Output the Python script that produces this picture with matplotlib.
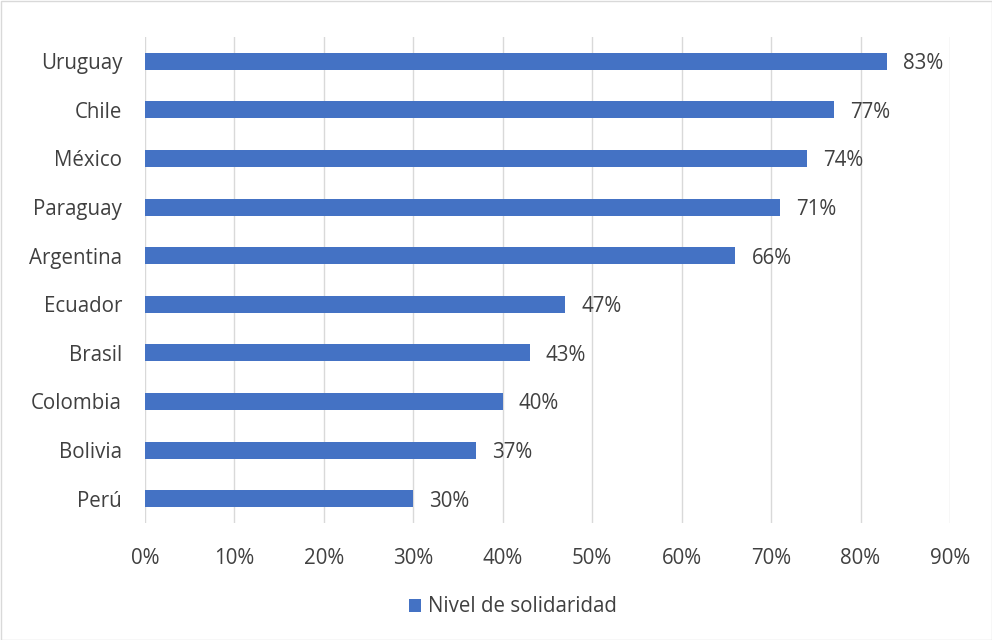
import matplotlib
matplotlib.use("Agg")
import matplotlib.pyplot as plt
from matplotlib.patches import Rectangle

countries = ["Perú", "Bolivia", "Colombia", "Brasil", "Ecuador", "Argentina",
             "Paraguay", "México", "Chile", "Uruguay"]
values = [30, 37, 40, 43, 47, 66, 71, 74, 77, 83]
xticks = [0, 10, 20, 30, 40, 50, 60, 70, 80, 90]
series_name = "Nivel de solidaridad"

plt.rcParams['font.family'] = ['Open Sans', 'DejaVu Sans']
color = "#4472C4"
text_color = "#404040"
fs = 14.8

fig = plt.figure(figsize=(9.92, 6.4), dpi=100)
ax = fig.add_axes([145/992, 1-523/640, (950-145)/992, (523-37)/640])

bars = ax.barh(range(len(countries)), values, height=0.35, color=color, label=series_name, zorder=3)
for i, v in enumerate(values):
    ax.text(v + 1.8, i - 0.05, f"{v}%", va="center", ha="left", fontsize=fs, color=text_color)

ax.set_xlim(0, 90)
ax.set_ylim(-0.5, len(countries) - 0.5)
ax.set_xticks(xticks)
ax.set_xticklabels([f"{t}%" for t in xticks], fontsize=fs, color=text_color)
ax.set_yticks(range(len(countries)))
ax.set_yticklabels(countries, fontsize=fs, color=text_color)
ax.tick_params(length=0)
ax.tick_params(axis='x', pad=18)
ax.tick_params(axis='y', pad=16.5)
ax.xaxis.grid(True, color="#D9D9D9", linewidth=1, zorder=0)
for s in ax.spines.values():
    s.set_visible(False)

leg = fig.legend(handles=[bars], labels=[series_name], loc="center",
                 bbox_to_anchor=(513/992, 1-607/640), frameon=False, fontsize=fs,
                 handlelength=0.6, handleheight=0.6, handletextpad=0.35)
for t in leg.get_texts():
    t.set_color(text_color)

fig.patches.append(Rectangle((0.5/992, 0.5/640), 1-1/992, 1-1/640, transform=fig.transFigure,
                             fill=False, edgecolor="#D9D9D9", linewidth=1))

fig.savefig("out.png", dpi=100, facecolor="white")
